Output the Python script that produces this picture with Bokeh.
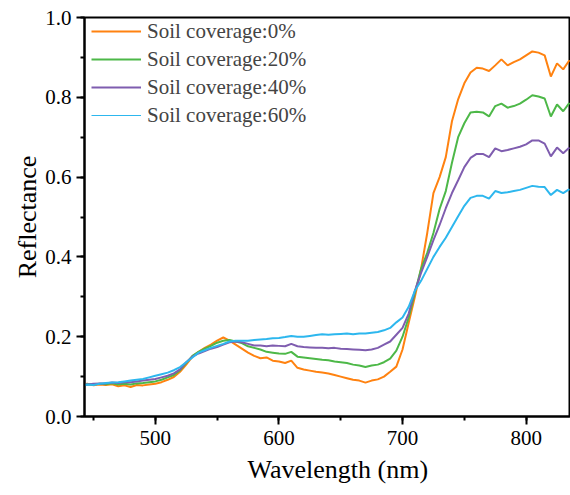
from bokeh.plotting import figure
from bokeh.models import (Range1d, SingleIntervalTicker, Legend, LegendItem, Title,
                          PrintfTickFormatter)
from bokeh.embed import file_html
from bokeh.resources import INLINE

wavelength = list(range(440, 840, 5))

soil_0 = [0.080, 0.082, 0.078, 0.080, 0.079, 0.081, 0.076, 0.078, 0.074, 0.079,
          0.078, 0.080, 0.082, 0.086, 0.092, 0.099, 0.112, 0.130, 0.150, 0.162,
          0.172, 0.180, 0.190, 0.198, 0.190, 0.180, 0.170, 0.160, 0.152, 0.146,
          0.148, 0.140, 0.138, 0.134, 0.140, 0.122, 0.118, 0.115, 0.112, 0.110,
          0.108, 0.104, 0.100, 0.096, 0.092, 0.090, 0.085, 0.090, 0.093, 0.100,
          0.112, 0.125, 0.168, 0.235, 0.300, 0.370, 0.460, 0.560, 0.600, 0.650,
          0.740, 0.795, 0.835, 0.862, 0.874, 0.872, 0.866, 0.880, 0.895, 0.880,
          0.888, 0.895, 0.905, 0.915, 0.912, 0.905, 0.852, 0.885, 0.870, 0.893]

soil_20 = [0.080, 0.081, 0.080, 0.082, 0.081, 0.083, 0.080, 0.082, 0.080, 0.083,
           0.084, 0.086, 0.088, 0.092, 0.098, 0.104, 0.116, 0.134, 0.152, 0.162,
           0.170, 0.177, 0.185, 0.190, 0.192, 0.188, 0.184, 0.176, 0.172, 0.168,
           0.162, 0.160, 0.158, 0.157, 0.162, 0.150, 0.148, 0.146, 0.144, 0.142,
           0.141, 0.138, 0.136, 0.134, 0.130, 0.128, 0.124, 0.128, 0.130, 0.136,
           0.145, 0.165, 0.200, 0.248, 0.310, 0.370, 0.410, 0.460, 0.520, 0.565,
           0.636, 0.700, 0.735, 0.762, 0.764, 0.762, 0.752, 0.778, 0.784, 0.774,
           0.778, 0.784, 0.794, 0.805, 0.802, 0.797, 0.752, 0.782, 0.765, 0.786]

soil_40 = [0.081, 0.080, 0.082, 0.083, 0.083, 0.085, 0.084, 0.086, 0.086, 0.088,
           0.090, 0.092, 0.094, 0.098, 0.102, 0.108, 0.118, 0.136, 0.150, 0.158,
           0.164, 0.170, 0.174, 0.180, 0.186, 0.188, 0.186, 0.182, 0.178, 0.178,
           0.176, 0.178, 0.177, 0.176, 0.182, 0.176, 0.174, 0.173, 0.172, 0.172,
           0.171, 0.172, 0.170, 0.169, 0.168, 0.167, 0.166, 0.168, 0.172, 0.180,
           0.188, 0.205, 0.222, 0.258, 0.315, 0.360, 0.400, 0.442, 0.480, 0.522,
           0.560, 0.592, 0.625, 0.648, 0.658, 0.658, 0.650, 0.672, 0.665, 0.668,
           0.672, 0.676, 0.682, 0.692, 0.692, 0.684, 0.652, 0.674, 0.660, 0.674]

soil_60 = [0.078, 0.080, 0.079, 0.082, 0.084, 0.085, 0.086, 0.088, 0.090, 0.092,
           0.094, 0.098, 0.102, 0.106, 0.110, 0.116, 0.124, 0.136, 0.148, 0.160,
           0.166, 0.172, 0.177, 0.182, 0.188, 0.190, 0.190, 0.190, 0.192, 0.193,
           0.194, 0.196, 0.197, 0.199, 0.202, 0.200, 0.200, 0.202, 0.204, 0.206,
           0.205, 0.206, 0.207, 0.208, 0.206, 0.208, 0.208, 0.210, 0.212, 0.216,
           0.222, 0.236, 0.248, 0.275, 0.315, 0.340, 0.370, 0.400, 0.425, 0.448,
           0.475, 0.502, 0.528, 0.548, 0.553, 0.553, 0.546, 0.565, 0.560, 0.562,
           0.565, 0.568, 0.573, 0.578, 0.576, 0.575, 0.555, 0.568, 0.560, 0.570]

labels = ["Soil coverage:0%", "Soil coverage:20%", "Soil coverage:40%", "Soil coverage:60%"]
colors = ["#FF8210", "#4DB848", "#7F5DAF", "#2DB7EE"]
series = [soil_0, soil_20, soil_40, soil_60]

FONT = "Times New Roman"

p = figure(width=570, height=495, output_backend="svg", toolbar_location=None,
           x_range=Range1d(442.7, 835.9), y_range=Range1d(0, 1.0),
           min_border_left=84, min_border_right=0, min_border_top=17, min_border_bottom=79)
p.grid.visible = False
# frame outline supplies the top border line
p.outline_line_color = "black"
p.outline_line_width = 2
p.background_fill_color = "white"
p.border_fill_color = "white"

renderers = []
for ys, c in zip(series, colors):
    r = p.line(wavelength, ys, line_color=c, line_width=2)
    renderers.append(r)

# thinner legend sample for the 60% series (kept outside the visible range)
blue_legend = p.line([0, 1], [0.5, 0.5], line_color=colors[3], line_width=1)
legend_rs = renderers[:3] + [blue_legend]

legend = Legend(items=[LegendItem(label=l, renderers=[r]) for l, r in zip(labels, legend_rs)],
                location=(7, 287), background_fill_alpha=0, border_line_color=None,
                label_text_font=FONT, label_text_font_size="21px",
                glyph_width=50, glyph_height=28, label_height=28, label_standoff=6,
                spacing=0, padding=0, margin=0)
p.add_layout(legend, "center")

for ax in (p.xaxis[0], p.yaxis[0]):
    ax.axis_line_width = 2
    ax.major_tick_line_width = 2
    ax.minor_tick_line_width = 2
    ax.major_tick_out = 8
    ax.major_tick_in = 0
    ax.minor_tick_out = 4
    ax.minor_tick_in = 0
    ax.major_label_text_font = FONT
    ax.major_label_text_font_size = "21px"
    ax.major_label_text_color = "black"
    ax.axis_line_color = "black"
    ax.major_tick_line_color = "black"
    ax.minor_tick_line_color = "black"

p.xaxis[0].ticker = SingleIntervalTicker(interval=100, num_minor_ticks=2)
p.yaxis[0].ticker = SingleIntervalTicker(interval=0.2, num_minor_ticks=2)
p.yaxis[0].formatter = PrintfTickFormatter(format="%.1f")
p.xaxis[0].major_label_standoff = 6
p.yaxis[0].major_label_standoff = 5

p.yaxis[0].axis_label = "Reflectance"
p.yaxis[0].axis_label_text_font = FONT
p.yaxis[0].axis_label_text_font_size = "26px"
p.yaxis[0].axis_label_text_font_style = "normal"
p.yaxis[0].axis_label_text_color = "black"
p.yaxis[0].axis_label_standoff = 0

xt = Title(text="Wavelength (nm)", align="left", offset=163, text_font=FONT,
           text_font_size="26px", text_font_style="normal", text_color="black", standoff=10)
p.add_layout(xt, "below")

open("out.html", "w").write(file_html(p, INLINE))
